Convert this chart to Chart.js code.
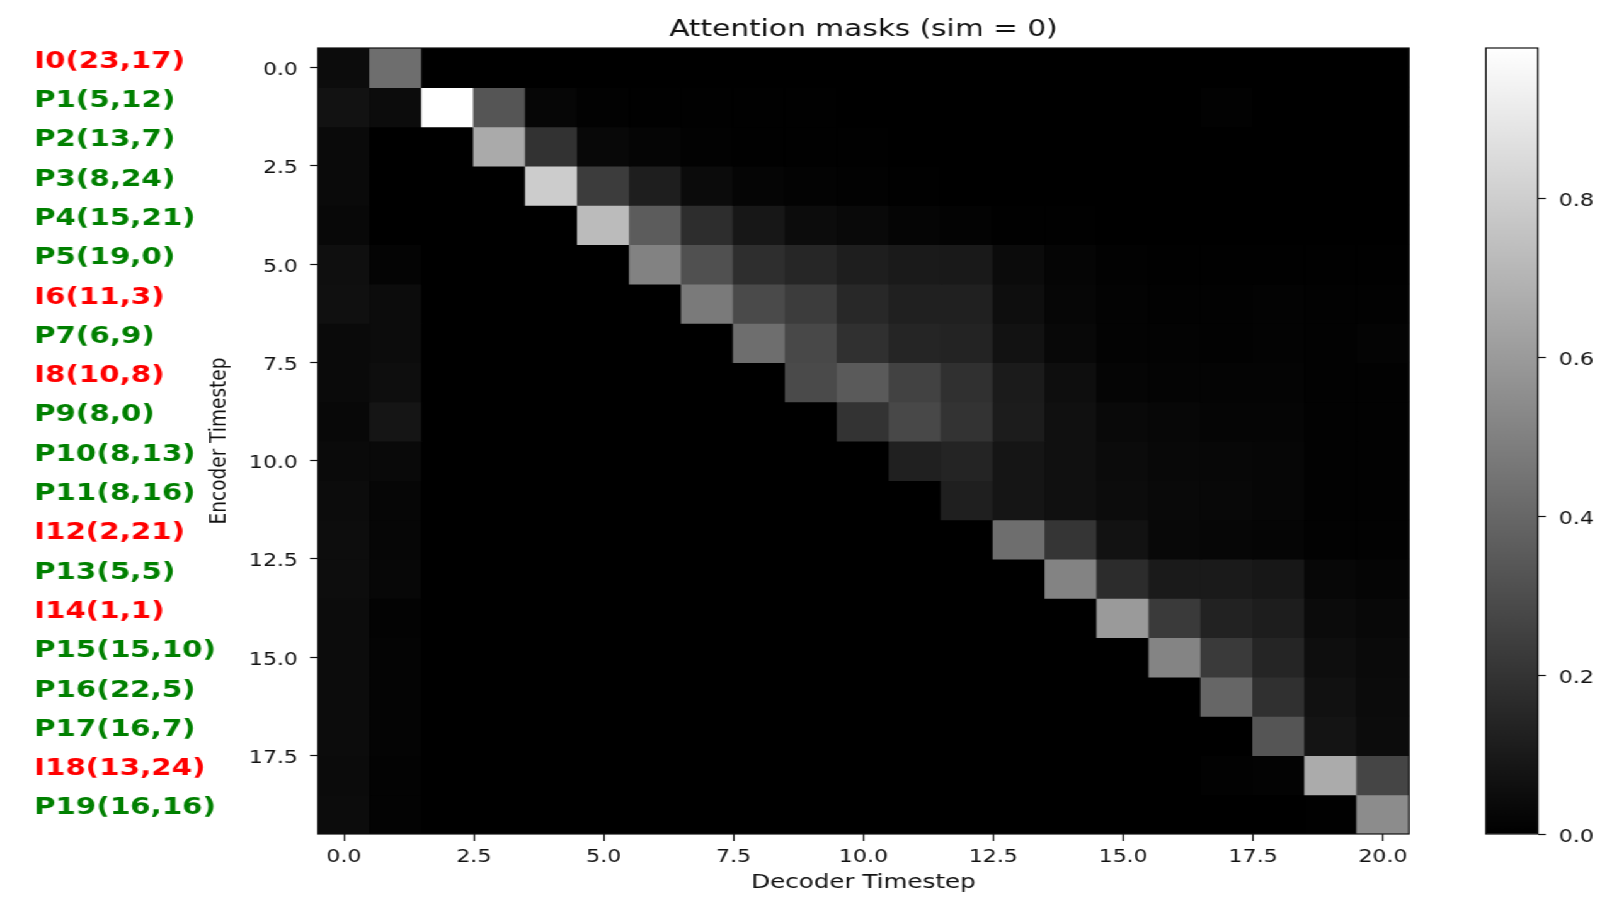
<!DOCTYPE html>
<html>
<head>
<meta charset="utf-8">
<title>Attention masks (sim = 0)</title>
<script src="https://cdn.jsdelivr.net/npm/chart.js@4.4.1/dist/chart.umd.min.js"></script>
<style>
  html, body { margin: 0; padding: 0; background: #fff; overflow: hidden; }
  #stage { position: absolute; left: 0; top: 0; width: 1289px; height: 906px;
           transform-origin: 0 0; transform: scaleX(1.25989); }
  #main { position: absolute; left: 0; top: 0; }
  #cbar { position: absolute; left: 1150px; top: 0; }
</style>
</head>
<body>
<div id="stage">
  <canvas id="main" width="1150" height="906"></canvas>
  <canvas id="cbar" width="139" height="906"></canvas>
</div>
<script>
// ---------------- data ----------------
const decoderSteps = [0, 1, 2, 3, 4, 5, 6, 7, 8, 9, 10, 11, 12, 13, 14, 15, 16, 17, 18, 19, 20];
const encoderSteps = [0, 1, 2, 3, 4, 5, 6, 7, 8, 9, 10, 11, 12, 13, 14, 15, 16, 17, 18, 19];
const encoderLabels = ['I0(23,17)', 'P1(5,12)', 'P2(13,7)', 'P3(8,24)', 'P4(15,21)', 'P5(19,0)',
  'I6(11,3)', 'P7(6,9)', 'I8(10,8)', 'P9(8,0)', 'P10(8,13)', 'P11(8,16)', 'I12(2,21)',
  'P13(5,5)', 'I14(1,1)', 'P15(15,10)', 'P16(22,5)', 'P17(16,7)', 'I18(13,24)', 'P19(16,16)'];

// attention weight per encoder step (row) and decoder step (column)
const attention = [
  [0.047, 0.427, 0, 0, 0, 0, 0, 0, 0, 0, 0, 0, 0, 0, 0, 0, 0, 0, 0, 0, 0],
  [0.070, 0.047, 0.990, 0.330, 0.023, 0.008, 0.004, 0.004, 0.004, 0.004, 0, 0, 0, 0, 0, 0, 0, 0.008, 0, 0, 0],
  [0.039, 0, 0, 0.660, 0.194, 0.031, 0.019, 0.008, 0.004, 0.004, 0.004, 0, 0, 0, 0, 0, 0, 0, 0, 0, 0],
  [0.039, 0, 0, 0, 0.792, 0.233, 0.116, 0.043, 0.019, 0.012, 0.008, 0.004, 0, 0, 0, 0, 0, 0, 0, 0, 0],
  [0.031, 0, 0, 0, 0, 0.726, 0.357, 0.175, 0.089, 0.047, 0.035, 0.019, 0.012, 0.004, 0.004, 0, 0, 0, 0, 0, 0],
  [0.058, 0.016, 0, 0, 0, 0, 0.505, 0.311, 0.179, 0.148, 0.116, 0.101, 0.097, 0.043, 0.019, 0.008, 0.004, 0.004, 0.004, 0.004, 0.004],
  [0.062, 0.047, 0, 0, 0, 0, 0, 0.474, 0.287, 0.233, 0.155, 0.124, 0.124, 0.054, 0.023, 0.012, 0.008, 0.008, 0.012, 0.008, 0.008],
  [0.039, 0.047, 0, 0, 0, 0, 0, 0, 0.427, 0.280, 0.186, 0.144, 0.136, 0.070, 0.031, 0.012, 0.012, 0.008, 0.012, 0.008, 0.016],
  [0.039, 0.054, 0, 0, 0, 0, 0, 0, 0, 0.287, 0.349, 0.256, 0.186, 0.105, 0.054, 0.019, 0.016, 0.016, 0.016, 0.008, 0.008],
  [0.031, 0.082, 0, 0, 0, 0, 0, 0, 0, 0, 0.198, 0.280, 0.198, 0.109, 0.062, 0.035, 0.027, 0.019, 0.019, 0.008, 0.008],
  [0.039, 0.035, 0, 0, 0, 0, 0, 0, 0, 0, 0, 0.124, 0.140, 0.082, 0.062, 0.043, 0.031, 0.027, 0.023, 0.008, 0.008],
  [0.047, 0.023, 0, 0, 0, 0, 0, 0, 0, 0, 0, 0, 0.120, 0.082, 0.062, 0.047, 0.035, 0.031, 0.023, 0.008, 0.008],
  [0.050, 0.023, 0, 0, 0, 0, 0, 0, 0, 0, 0, 0, 0, 0.427, 0.206, 0.070, 0.031, 0.023, 0.019, 0.008, 0.008],
  [0.050, 0.027, 0, 0, 0, 0, 0, 0, 0, 0, 0, 0, 0, 0, 0.509, 0.171, 0.101, 0.101, 0.089, 0.027, 0.019],
  [0.047, 0.012, 0, 0, 0, 0, 0, 0, 0, 0, 0, 0, 0, 0, 0, 0.598, 0.225, 0.132, 0.113, 0.043, 0.031],
  [0.047, 0.016, 0, 0, 0, 0, 0, 0, 0, 0, 0, 0, 0, 0, 0, 0, 0.512, 0.225, 0.144, 0.054, 0.039],
  [0.047, 0.016, 0, 0, 0, 0, 0, 0, 0, 0, 0, 0, 0, 0, 0, 0, 0, 0.396, 0.186, 0.066, 0.043],
  [0.047, 0.016, 0, 0, 0, 0, 0, 0, 0, 0, 0, 0, 0, 0, 0, 0, 0, 0, 0.330, 0.078, 0.047],
  [0.043, 0.012, 0, 0, 0, 0, 0, 0, 0, 0, 0, 0, 0, 0, 0, 0, 0, 0.008, 0.012, 0.664, 0.268],
  [0.047, 0.012, 0, 0, 0, 0, 0, 0, 0, 0, 0, 0, 0, 0, 0, 0, 0, 0, 0, 0.004, 0.544]
];

const xTickValues = [0, 2.5, 5, 7.5, 10, 12.5, 15, 17.5, 20];
const xTickLabels = ['0.0', '2.5', '5.0', '7.5', '10.0', '12.5', '15.0', '17.5', '20.0'];
const yTickValues = [0, 2.5, 5, 7.5, 10, 12.5, 15, 17.5];
const yTickLabels = ['0.0', '2.5', '5.0', '7.5', '10.0', '12.5', '15.0', '17.5'];
const cbTickValues = [0, 0.2, 0.4, 0.6, 0.8];
const cbTickLabels = ['0.0', '0.2', '0.4', '0.6', '0.8'];

// ---------------- helpers ----------------
const FONT = "'DejaVu Sans', 'Liberation Sans', sans-serif";
const INK = '#111111';
const vmax = Math.max(...attention.flat());
function gray(v) {
  const g = Math.round(255 * Math.max(0, Math.min(1, v / vmax)));
  return 'rgb(' + g + ',' + g + ',' + g + ')';
}

const heatDatasets = encoderSteps.map((r, i) => ({
  label: encoderLabels[i],
  data: decoderSteps.map(c => ({ x: c, y: [r - 0.5, r + 0.5] })),
  backgroundColor: attention[i].map(gray),
  borderWidth: 0,
  inflateAmount: 0.6,
  grouped: false,
  barPercentage: 1,
  categoryPercentage: 1
}));

const underlayPlugin = {
  id: 'underlay',
  beforeDatasetsDraw(chart) {
    const a = chart.chartArea, ctx = chart.ctx;
    ctx.save();
    ctx.fillStyle = '#000000';
    ctx.fillRect(a.left, a.top, a.right - a.left, a.bottom - a.top);
    ctx.restore();
  }
};

const framePlugin = {
  id: 'frame',
  afterDraw(chart) {
    const a = chart.chartArea, ctx = chart.ctx;
    ctx.save();
    ctx.strokeStyle = INK;
    ctx.lineWidth = 1.2;
    ctx.strokeRect(a.left, a.top, a.right - a.left, a.bottom - a.top);
    ctx.restore();
  }
};

const rowLabelPlugin = {
  id: 'rowLabels',
  afterDraw(chart) {
    const ys = chart.scales.y, ctx = chart.ctx;
    ctx.save();
    ctx.font = 'bold 23.3px ' + FONT;
    ctx.textAlign = 'left';
    ctx.textBaseline = 'middle';
    encoderLabels.forEach((t, i) => {
      ctx.fillStyle = t.charAt(0) === 'I' ? '#ff0000' : '#008000';
      ctx.fillText(t, 27, ys.getPixelForValue(encoderSteps[i]) - 6);
    });
    ctx.restore();
  }
};

// ---------------- main heatmap ----------------
new Chart(document.getElementById('main'), {
  type: 'bar',
  data: { datasets: heatDatasets },
  options: {
    responsive: false,
    animation: false,
    devicePixelRatio: 1,
    layout: { padding: { left: 159.1, right: 31.7, top: 0, bottom: 7.3 } },
    plugins: {
      legend: { display: false },
      tooltip: { enabled: false },
      title: {
        display: true,
        text: 'Attention masks (sim = 0)',
        fullSize: false,
        color: INK,
        font: { family: FONT, size: 23.5, weight: 'normal' },
        padding: { top: 16, bottom: 3.8 }
      }
    },
    scales: {
      x: {
        type: 'linear',
        min: -0.5,
        max: 20.5,
        offset: false,
        grid: { display: true, offset: false, drawOnChartArea: false, drawTicks: true,
                tickLength: 7, tickColor: INK, tickWidth: 1.2 },
        border: { display: false },
        ticks: {
          color: INK, font: { family: FONT, size: 17.5 }, padding: 6,
          maxRotation: 0, autoSkip: false,
          callback: (v, i) => xTickLabels[i]
        },
        afterBuildTicks: s => { s.ticks = xTickValues.map(v => ({ value: v })); },
        afterFit: s => { s.height = 64.7; },
        title: { display: true, text: 'Decoder Timestep', color: INK,
                 font: { family: FONT, size: 19.5 }, padding: { top: 4, bottom: 4 } }
      },
      y: {
        type: 'linear',
        reverse: true,
        min: -0.5,
        max: 19.5,
        beginAtZero: false,
        grid: { display: true, drawOnChartArea: false, drawTicks: true,
                tickLength: 6.3, tickColor: INK, tickWidth: 1.2 },
        border: { display: false },
        ticks: {
          color: INK, font: { family: FONT, size: 17.5 }, padding: 9.6, autoSkip: false,
          labelOffset: 3,
          callback: (v, i) => yTickLabels[i]
        },
        afterBuildTicks: s => { s.ticks = yTickValues.map(v => ({ value: v })); },
        afterFit: s => { s.width = 93.3; },
        title: { display: true, text: 'Encoder Timestep', color: INK,
                 font: { family: FONT, size: 18.5 }, padding: { top: 4, bottom: 4 } }
      }
    }
  },
  plugins: [underlayPlugin, framePlugin, rowLabelPlugin]
});

// ---------------- colorbar ----------------
new Chart(document.getElementById('cbar'), {
  type: 'bar',
  data: {
    labels: ['colorbar'],
    datasets: [{
      data: [vmax],
      borderWidth: 0,
      barPercentage: 1,
      categoryPercentage: 1,
      backgroundColor: (c) => {
        const chart = c.chart;
        const ys = chart.scales && chart.scales.y;
        if (!chart.chartArea || !ys) return '#777';
        const g = chart.ctx.createLinearGradient(0, ys.getPixelForValue(0), 0, ys.getPixelForValue(vmax));
        g.addColorStop(0, '#000000');
        g.addColorStop(1, '#ffffff');
        return g;
      }
    }]
  },
  options: {
    responsive: false,
    animation: false,
    devicePixelRatio: 1,
    layout: { padding: { left: 29.4, right: 8.4, top: 48, bottom: 72 } },
    plugins: { legend: { display: false }, tooltip: { enabled: false } },
    scales: {
      x: { display: false },
      y: {
        position: 'right',
        min: 0,
        max: vmax,
        grid: { display: true, drawOnChartArea: false, drawTicks: true,
                tickLength: 6.3, tickColor: INK, tickWidth: 1.2 },
        border: { display: false },
        ticks: {
          color: INK, font: { family: FONT, size: 17.5 }, padding: 10.4, autoSkip: false,
          labelOffset: 3,
          callback: (v, i) => cbTickLabels[i]
        },
        afterBuildTicks: s => { s.ticks = cbTickValues.map(v => ({ value: v })); },
        afterFit: s => { s.width = 60; }
      }
    }
  },
  plugins: [framePlugin]
});
</script>
</body>
</html>
